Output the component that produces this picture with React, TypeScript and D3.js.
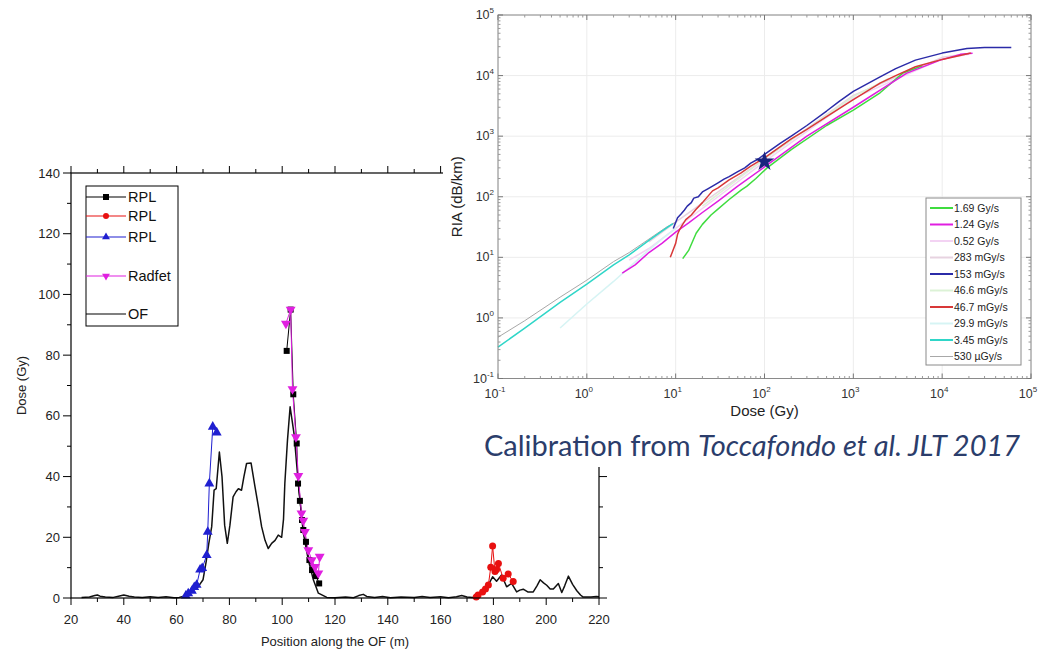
import React from 'react';
import * as d3 from 'd3';

type P = [number, number];

// ---- left chart: dose along the optical fibre ----
const ofProfile: P[] = [
  [24, 0.2], [27, 0.3], [29, 0.8], [30, 1.0], [31, 0.6], [33, 0.3], [36, 0.2], [38, 0.6], [40, 1.0],
  [42, 0.6], [44, 0.3], [47, 0.2], [50, 0.4], [53, 0.2], [56, 0.4], [59, 0.1], [61, 0.2], [62.4, 0.5],
  [64, 1.5], [66, 2.5], [68, 3.5], [70, 6], [71.2, 12], [72.2, 18], [73.3, 23.5], [74.2, 35.5], [75, 36],
  [76.2, 48.1], [77.2, 40], [78.2, 24], [79.2, 18], [80.2, 24], [81.4, 33.3], [82.5, 35], [83.4, 36],
  [84.6, 35.5], [85.5, 40], [86.5, 44.3], [88.2, 44.5], [89.7, 36.6], [91, 30], [92.2, 23.5], [93.5, 19],
  [94.7, 16.3], [96, 18], [97.3, 19], [98.5, 20.7], [99.8, 20], [100.5, 26], [101, 37.8], [102, 52],
  [103, 63], [104.5, 54], [106.1, 37.8], [108, 21.4], [109.9, 12.5], [111.8, 6], [113.7, 1.6],
  [116.9, 0.2], [120, 0.1], [124, 0.3], [127, 0.1], [129, 0.8], [130.7, 1.2], [132, 0.5], [135, 0.2],
  [138, 0.5], [141, 0.1], [145, 0.3], [150, 0.2], [153, 0.5], [156, 0.2], [160, 0.4], [163, 0.1],
  [166, 0.4], [168, 0.8], [170, 0.3], [172, 0.2], [173.7, 0.4], [175.5, 2], [177.5, 3.7], [178.5, 5],
  [179.7, 7], [181.2, 5.5], [183.1, 7.6], [185, 3.7], [186.9, 4.8], [188.8, 2], [190, 2.6], [191.3, 2.9],
  [193, 2], [195.1, 2], [196.5, 4], [197.7, 6], [199, 5], [200.2, 4.2], [201.5, 3], [202.7, 3],
  [204.6, 4.8], [205.9, 1.8], [207, 4], [208.4, 7.2], [210, 4.5], [211.6, 2.4], [213, 1], [214, 0.3],
  [217, 0.3], [219, 0.5], [220, 0.4],
];

const rplBlack: P[] = [
  [101.7, 81.4], [103.2, 95], [104.2, 67.1], [105.5, 50.9], [106, 37.7], [106.7, 32], [107.5, 25.7],
  [108, 22.4], [109, 18.5], [110.3, 12.5], [111.3, 9.2], [112.8, 7.2], [114, 4.8],
];

const rplRed: P[] = [
  [173.5, 0.3], [174.2, 1], [175.9, 2], [177, 3], [178.1, 4.3], [179, 10.1], [179.7, 17.1], [180.6, 8.7],
  [181.2, 9.4], [181.9, 11.4], [183.7, 6.5], [185.6, 7.9], [187.5, 5.4],
];

const rplBlue: P[] = [
  [63.5, 0.8], [64.4, 1.5], [65.8, 2.3], [66.7, 3.6], [67.6, 4.3], [68.9, 9.3], [69.7, 9.8], [71.4, 14.1],
  [71.8, 21.8], [72.4, 37.7], [73.7, 56.4], [75.2, 54.5],
];

const radfet: P[] = [
  [101.4, 90.4], [103.2, 95], [103.9, 68.8], [105.2, 53], [106.1, 40.2], [107.3, 27.9], [108, 25.5],
  [108.6, 21.8], [109.9, 15.8], [111.2, 12.5], [112.4, 10.3], [113.7, 8.1], [114.2, 13.6],
];

const posTicks = [20, 40, 60, 80, 100, 120, 140, 160, 180, 200, 220];
const doseTicks = [0, 20, 40, 60, 80, 100, 120, 140];

// ---- right chart: RIA vs dose calibration curves ----
const rate169: P[] = [[12, 9.5], [14, 13], [17, 25], [20, 35], [25, 50], [29, 60], [40, 90], [55, 130], [63, 148], [80, 200], [107, 300], [200, 600], [500, 1500], [1000, 2700], [2000, 5200], [3600, 11000], [6000, 14500]];
const rate124: P[] = [[2.5, 5.5], [3.5, 7.5], [5, 12], [7, 17], [10, 26], [14, 37], [20, 55], [30, 85], [50, 150], [100, 310], [300, 1000], [1000, 3000], [4000, 11000], [9500, 18000], [16000, 22400], [22000, 23400]];
const rate052: P[] = [[3, 9], [5, 14], [10, 30], [30, 100], [100, 380], [1000, 4200], [10000, 19000], [20000, 22500]];
const rate283m: P[] = [[5, 18], [10, 38], [30, 120], [100, 420], [1000, 4700], [10000, 20000], [20000, 23000]];
const rate153m: P[] = [[9.4, 30], [10.5, 45], [11.5, 52], [12.5, 60], [13.5, 70], [15, 80], [16, 95], [18, 100], [20, 120], [23, 135], [26, 150], [30, 170], [35, 195], [40, 215], [50, 260], [60, 300], [70, 360], [85, 420], [100, 500], [150, 760], [200, 1000], [300, 1500], [500, 2600], [700, 3800], [1000, 5500], [2000, 9500], [3000, 13000], [5000, 18000], [10000, 23500], [19000, 28000], [30000, 29000], [60000, 29000]];
const rate466m: P[] = [[20, 70], [100, 420], [1000, 4500], [2500, 9000]];
const rate467m: P[] = [[8.7, 10], [9.5, 14], [10, 17], [10.5, 24], [11, 28], [12, 35], [13, 42], [15, 50], [17, 62], [20, 80], [26, 125], [30, 140], [40, 190], [54, 245], [70, 320], [100, 440], [200, 900], [300, 1300], [500, 2100], [1000, 4000], [2000, 7500], [3000, 10000], [5000, 14000], [10000, 18500], [15000, 21000], [21000, 23500]];
const rate299m: P[] = [[0.5, 0.68], [1, 1.7], [2, 4], [4, 10], [7, 20], [10, 30]];
const rate345m: P[] = [[0.1, 0.33], [0.2, 0.68], [0.5, 1.8], [1, 3.6], [2, 7.5], [3, 11], [5, 19], [7, 27], [9.3, 36]];
const rate530u: P[] = [[0.1, 0.48], [0.2, 0.9], [0.5, 2.2], [1, 4.2], [2, 8.5], [3, 12], [5, 20], [8, 32], [10, 38]];

const rateLabels = ['1.69 Gy/s', '1.24 Gy/s', '0.52 Gy/s', '283 mGy/s', '153 mGy/s', '46.6 mGy/s', '46.7 mGy/s', '29.9 mGy/s', '3.45 mGy/s', '530 \u00b5Gy/s'];
const rateColors = ['#3fdc3f', '#e01ee0', '#f3d3f3', '#e7d3e0', '#2b2ba8', '#dcf2d6', '#d83838', '#d6f4f4', '#2fd6c8', '#a8a8a8'];
const rateData = [rate169, rate124, rate052, rate283m, rate153m, rate466m, rate467m, rate299m, rate345m, rate530u];
const drawOrder = [2, 3, 5, 7, 9, 8, 0, 1, 6, 4];

const starPoint: P = [100, 380];
const logExps = [-1, 0, 1, 2, 3, 4, 5];

export default function App() {
  const x = d3.scaleLinear().domain([20, 220]).range([71, 599]);
  const y = d3.scaleLinear().domain([0, 140]).range([598, 173]);
  const line = d3.line<P>().x(d => x(d[0])).y(d => y(d[1]));

  const lx = d3.scaleLog().domain([0.1, 1e5]).range([498, 1031]);
  const ly = d3.scaleLog().domain([0.1, 1e5]).range([378.5, 15]);
  const logLine = d3.line<P>().x(d => lx(d[0])).y(d => ly(d[1]));

  const tri = d3.symbol().type(d3.symbolTriangle).size(42)() || '';
  const star = d3.symbol().type(d3.symbolStar).size(120)() || '';

  const [x0, x1] = x.range();
  const [y0, y1] = y.range();
  const [lx0, lx1] = lx.range();
  const [ly0, ly1] = ly.range();

  const minorLog: number[] = [];
  for (let e = -1; e < 5; e++) for (let k = 2; k <= 9; k++) minorLog.push(k * Math.pow(10, e));

  const marks = (pts: P[], kind: string, color: string) =>
    pts.map((d, i) => {
      const cx = x(d[0]), cy = y(d[1]);
      if (kind === 'square') return <rect key={i} x={cx - 3} y={cy - 3} width={6} height={6} fill={color} />;
      if (kind === 'circle') return <circle key={i} cx={cx} cy={cy} r={3.5} fill={color} />;
      if (kind === 'up') return <path key={i} d={tri} transform={`translate(${cx},${cy})`} fill={color} />;
      return <path key={i} d={tri} transform={`translate(${cx},${cy}) rotate(180)`} fill={color} />;
    });

  const legendLeft = [
    { label: 'RPL', color: '#000', kind: 'square', yy: 197 },
    { label: 'RPL', color: '#e81010', kind: 'circle', yy: 216 },
    { label: 'RPL', color: '#1f1fd0', kind: 'up', yy: 237 },
    { label: 'Radfet', color: '#e020e0', kind: 'down', yy: 276 },
    { label: 'OF', color: '#000', kind: 'none', yy: 314 },
  ];

  return (
    <svg width={1048} height={652} style={{ position: 'absolute', left: 0, top: 0, background: '#fff' }}
      fontFamily="Arial, 'Liberation Sans', sans-serif">
      {/* ===== left chart ===== */}
      <g>
        <path d={line(ofProfile) || ''} fill="none" stroke="#111" strokeWidth={1.5} strokeLinejoin="round" />
        <path d={line(rplBlue) || ''} fill="none" stroke="#1f1fd0" strokeWidth={1} />
        <path d={line(rplRed) || ''} fill="none" stroke="#e81010" strokeWidth={1} />
        <path d={line(rplBlack) || ''} fill="none" stroke="#000" strokeWidth={1} />
        <path d={line(radfet) || ''} fill="none" stroke="#e020e0" strokeWidth={1} />
        {marks(rplBlue, 'up', '#1f1fd0')}
        {marks(rplRed, 'circle', '#e81010')}
        {marks(rplBlack, 'square', '#000')}
        {marks(radfet, 'down', '#e020e0')}

        <rect x={x0} y={y1} width={x1 - x0} height={y0 - y1} fill="none" stroke="#000" strokeWidth={1.2} />
        {d3.range(20, 221, 10).map(v => {
          const major = v % 20 === 0;
          const t = major ? 7 : 4;
          return (
            <g key={'xt' + v}>
              <line x1={x(v)} x2={x(v)} y1={y0} y2={y0 + t} stroke="#000" />
              <line x1={x(v)} x2={x(v)} y1={y1} y2={y1 - t} stroke="#000" />
            </g>
          );
        })}
        {d3.range(0, 141, 10).map(v => {
          const major = v % 20 === 0;
          const t = major ? 8 : 4;
          return (
            <g key={'yt' + v}>
              <line x1={x0} x2={x0 - t} y1={y(v)} y2={y(v)} stroke="#000" />
              <line x1={x1} x2={x1 + t} y1={y(v)} y2={y(v)} stroke="#000" />
            </g>
          );
        })}
        {posTicks.map(v => (
          <text key={'xl' + v} x={x(v)} y={624} textAnchor="middle" fontSize={13} fill="#222">{v}</text>
        ))}
        {doseTicks.map(v => (
          <text key={'yl' + v} x={60} y={y(v) + 4.5} textAnchor="end" fontSize={13} fill="#222">{v}</text>
        ))}
        <text x={(x0 + x1) / 2} y={646} textAnchor="middle" fontSize={13} fill="#222">Position along the OF (m)</text>
        <text transform={`translate(26,${(y0 + y1) / 2}) rotate(-90)`} textAnchor="middle" fontSize={13} fill="#222">Dose (Gy)</text>

        <rect x={86} y={186} width={92} height={140} fill="#fff" stroke="#000" strokeWidth={1} />
        {legendLeft.map((e, i) => (
          <g key={'ll' + i}>
            <line x1={86} x2={126} y1={e.yy} y2={e.yy} stroke={e.color} strokeWidth={1.2} />
            {e.kind === 'square' && <rect x={103} y={e.yy - 3} width={6} height={6} fill={e.color} />}
            {e.kind === 'circle' && <circle cx={106} cy={e.yy} r={3} fill={e.color} />}
            {e.kind === 'up' && <path d={tri} transform={`translate(106,${e.yy}) scale(0.8)`} fill={e.color} />}
            {e.kind === 'down' && <path d={tri} transform={`translate(106,${e.yy}) rotate(180) scale(0.8)`} fill={e.color} />}
            <text x={128} y={e.yy + 5} fontSize={14.5} fill="#111">{e.label}</text>
          </g>
        ))}
      </g>

      {/* ===== right chart panel (pasted over) ===== */}
      <rect x={443} y={0} width={605} height={467} fill="#fff" />
      <g>
        {logExps.map(e => (
          <g key={'g' + e}>
            <line x1={lx(Math.pow(10, e))} x2={lx(Math.pow(10, e))} y1={ly1} y2={ly0} stroke="#ececec" />
            <line x1={lx0} x2={lx1} y1={ly(Math.pow(10, e))} y2={ly(Math.pow(10, e))} stroke="#ececec" />
          </g>
        ))}
        {drawOrder.map(i => (
          <path key={'c' + i} d={logLine(rateData[i]) || ''} fill="none" stroke={rateColors[i]}
            strokeWidth={i === 9 ? 1 : 1.5} strokeLinejoin="round" />
        ))}
        <path d={star} transform={`translate(${lx(starPoint[0])},${ly(starPoint[1])})`} fill="#1a237e" />

        <rect x={lx0} y={ly1} width={lx1 - lx0} height={ly0 - ly1} fill="none" stroke="#8a8a8a" strokeWidth={1} />
        {logExps.map(e => {
          const v = Math.pow(10, e);
          return (
            <g key={'mt' + e}>
              <line x1={lx(v)} x2={lx(v)} y1={ly0} y2={ly0 - 5} stroke="#777" />
              <line x1={lx(v)} x2={lx(v)} y1={ly1} y2={ly1 + 5} stroke="#777" />
              <line x1={lx0} x2={lx0 + 5} y1={ly(v)} y2={ly(v)} stroke="#777" />
              <line x1={lx1} x2={lx1 - 5} y1={ly(v)} y2={ly(v)} stroke="#777" />
            </g>
          );
        })}
        {minorLog.map((v, i) => (
          <g key={'nt' + i}>
            <line x1={lx(v)} x2={lx(v)} y1={ly0} y2={ly0 - 2.5} stroke="#999" />
            <line x1={lx(v)} x2={lx(v)} y1={ly1} y2={ly1 + 2.5} stroke="#999" />
            <line x1={lx0} x2={lx0 + 2.5} y1={ly(v)} y2={ly(v)} stroke="#999" />
            <line x1={lx1} x2={lx1 - 2.5} y1={ly(v)} y2={ly(v)} stroke="#999" />
          </g>
        ))}
        {logExps.map(e => (
          <text key={'xl' + e} x={lx(Math.pow(10, e)) - 3} y={398} textAnchor="middle" fontSize={12.5} fill="#333">
            10<tspan dy={-6} fontSize={8}>{e}</tspan>
          </text>
        ))}
        {logExps.map(e => (
          <text key={'yl' + e} x={494} y={ly(Math.pow(10, e)) + 4} textAnchor="end" fontSize={12.5} fill="#333">
            10<tspan dy={-6} fontSize={8}>{e}</tspan>
          </text>
        ))}
        <text x={(lx0 + lx1) / 2} y={416} textAnchor="middle" fontSize={15} fill="#222">Dose (Gy)</text>
        <text transform={`translate(462,${(ly0 + ly1) / 2}) rotate(-90)`} textAnchor="middle" fontSize={15} fill="#222">RIA (dB/km)</text>

        <rect x={926} y={198} width={95} height={167} fill="#fff" stroke="#8a8a8a" strokeWidth={1} />
        {rateLabels.map((lab, i) => {
          const yy = 208 + i * 16.5;
          return (
            <g key={'rl' + i}>
              <line x1={930} x2={953} y1={yy} y2={yy} stroke={rateColors[i]} strokeWidth={i === 9 ? 1 : 2} />
              <text x={954} y={yy + 3.8} fontSize={10.5} fill="#222">{lab}</text>
            </g>
          );
        })}
      </g>

      <text x={752} y={456} textAnchor="middle" fontSize={29} fill="#2b3d6b" fontFamily="Lato, 'Open Sans', sans-serif">
        Calibration from <tspan fontStyle="italic">Toccafondo et al. JLT 2017</tspan>
      </text>
    </svg>
  );
}
